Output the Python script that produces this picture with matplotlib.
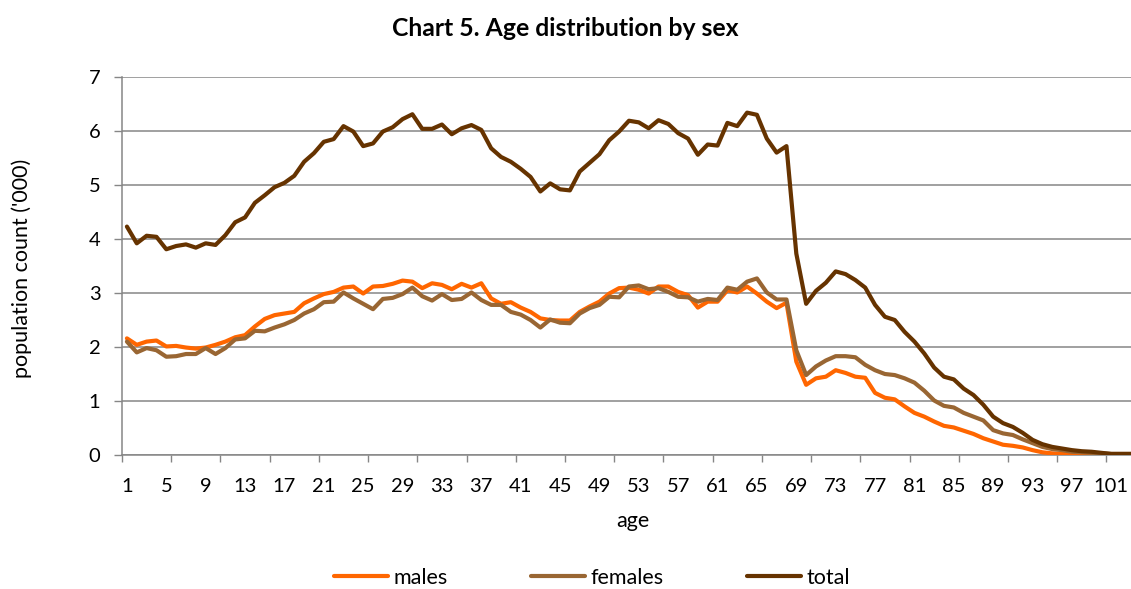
import numpy as np
import matplotlib
matplotlib.use("Agg")
import matplotlib.pyplot as plt

# population by single year of age, thousands
ages = list(range(1, 104))
males = [2.16, 2.04, 2.10, 2.12, 2.01, 2.02, 1.99, 1.97, 1.99, 2.04,
         2.10, 2.18, 2.22, 2.38, 2.52, 2.59, 2.62, 2.65, 2.81, 2.90,
         2.98, 3.02, 3.10, 3.12, 2.99, 3.12, 3.13, 3.17, 3.23, 3.21,
         3.09, 3.18, 3.15, 3.07, 3.17, 3.10, 3.18, 2.90, 2.80, 2.83,
         2.73, 2.65, 2.53, 2.50, 2.49, 2.49, 2.65, 2.75, 2.84, 2.99,
         3.09, 3.10, 3.06, 2.99, 3.12, 3.12, 3.02, 2.96, 2.73, 2.84,
         2.84, 3.05, 3.01, 3.12, 2.99, 2.84, 2.72, 2.82, 1.73, 1.30,
         1.42, 1.45, 1.57, 1.52, 1.45, 1.43, 1.15, 1.06, 1.03, 0.90,
         0.78, 0.71, 0.62, 0.54, 0.51, 0.45, 0.39, 0.31, 0.25, 0.19,
         0.17, 0.14, 0.09, 0.05, 0.03, 0.02, 0.01, 0.01, 0.01, 0.00,
         0.00, 0.00, 0.00]
females = [2.10, 1.90, 1.98, 1.94, 1.82, 1.83, 1.87, 1.87, 1.98, 1.87,
           1.98, 2.14, 2.16, 2.30, 2.29, 2.36, 2.42, 2.50, 2.62, 2.70,
           2.83, 2.84, 3.01, 2.90, 2.80, 2.70, 2.89, 2.91, 2.98, 3.10,
           2.94, 2.86, 2.98, 2.87, 2.89, 3.01, 2.87, 2.78, 2.78, 2.65,
           2.60, 2.50, 2.36, 2.51, 2.45, 2.44, 2.62, 2.72, 2.78, 2.93,
           2.92, 3.12, 3.14, 3.07, 3.09, 3.02, 2.93, 2.92, 2.84, 2.89,
           2.87, 3.10, 3.06, 3.21, 3.27, 3.01, 2.88, 2.88, 1.94, 1.48,
           1.64, 1.75, 1.83, 1.83, 1.81, 1.67, 1.57, 1.50, 1.48, 1.42,
           1.34, 1.19, 1.01, 0.91, 0.88, 0.78, 0.71, 0.64, 0.46, 0.40,
           0.37, 0.29, 0.22, 0.15, 0.11, 0.09, 0.06, 0.05, 0.04, 0.03,
           0.02, 0.02, 0.02]
total = [4.23, 3.92, 4.06, 4.04, 3.81, 3.87, 3.90, 3.84, 3.92, 3.89,
         4.07, 4.31, 4.40, 4.67, 4.81, 4.96, 5.04, 5.17, 5.43, 5.59,
         5.80, 5.85, 6.09, 5.99, 5.72, 5.77, 5.99, 6.07, 6.22, 6.31,
         6.04, 6.04, 6.12, 5.94, 6.05, 6.11, 6.02, 5.68, 5.52, 5.43,
         5.30, 5.15, 4.88, 5.03, 4.92, 4.90, 5.25, 5.41, 5.57, 5.83,
         5.99, 6.19, 6.16, 6.05, 6.20, 6.13, 5.96, 5.86, 5.56, 5.75,
         5.73, 6.15, 6.09, 6.34, 6.30, 5.86, 5.60, 5.72, 3.73, 2.80,
         3.04, 3.19, 3.40, 3.35, 3.24, 3.10, 2.78, 2.56, 2.50, 2.28,
         2.10, 1.88, 1.62, 1.45, 1.40, 1.23, 1.11, 0.93, 0.71, 0.59,
         0.52, 0.41, 0.28, 0.20, 0.15, 0.12, 0.09, 0.07, 0.06, 0.04,
         0.02, 0.02, 0.02]
series = [("males", males, "#FF6600"),
          ("females", females, "#996633"),
          ("total", total, "#663300")]
xlabels = list(range(1, 102, 4))

W, H = 1131, 589
FS = 14.5      # tick labels
FL = 15.5      # axis titles, legend
GRID = "#868686"
plt.rcParams["font.family"] = ["Lato", "DejaVu Sans"]

fig = plt.figure(figsize=(W / 100, H / 100), dpi=100)
ax = fig.add_axes([122 / W, 1 - 455 / H, (W - 122) / W, 378 / H])

for name, vals, col in series:
    ax.plot(ages, vals, color=col, lw=3.0, label=name,
            solid_joinstyle="round", solid_capstyle="round", zorder=3)

ax.set_xlim(0.5, 103.0); ax.set_ylim(0, 7)
ax.set_yticks(range(0, 8))
ax.set_xticks(xlabels)
ax.set_xticks(np.arange(0.5, 103, 5), minor=True)
ax.tick_params(axis="x", which="major", length=0, pad=16.5, labelsize=FS)
ax.tick_params(axis="x", which="minor", length=4.7, width=1.0, color=GRID)
ax.tick_params(axis="y", length=5.5, width=1.0, color=GRID, pad=10, labelsize=FS)
ax.grid(axis="y", color=GRID, lw=1.1)
ax.set_axisbelow(True)
for s in ("top", "right"):
    ax.spines[s].set_visible(False)
for s in ("left", "bottom"):
    ax.spines[s].set_color(GRID); ax.spines[s].set_linewidth(1.1)

fig.text(0.5, 1 - 36 / H, "Chart 5. Age distribution by sex", ha="center", va="baseline",
         fontsize=17.8, fontweight="bold")
fig.text(22 / W, 1 - 268 / H, "population count ('000)", rotation=90, ha="center", va="center",
         fontsize=FL)
fig.text(633 / W, 1 - 527 / H, "age", ha="center", va="baseline", fontsize=FL)

px = FL * 100 / 72
h, l = ax.get_legend_handles_labels()
fig.legend(h, l, loc="center", bbox_to_anchor=(592 / W, 1 - 578 / H), ncol=3, frameon=False,
           fontsize=FL, handlelength=54 / px, handletextpad=5 / px, columnspacing=84 / px)

fig.savefig("out.png", dpi=100)
